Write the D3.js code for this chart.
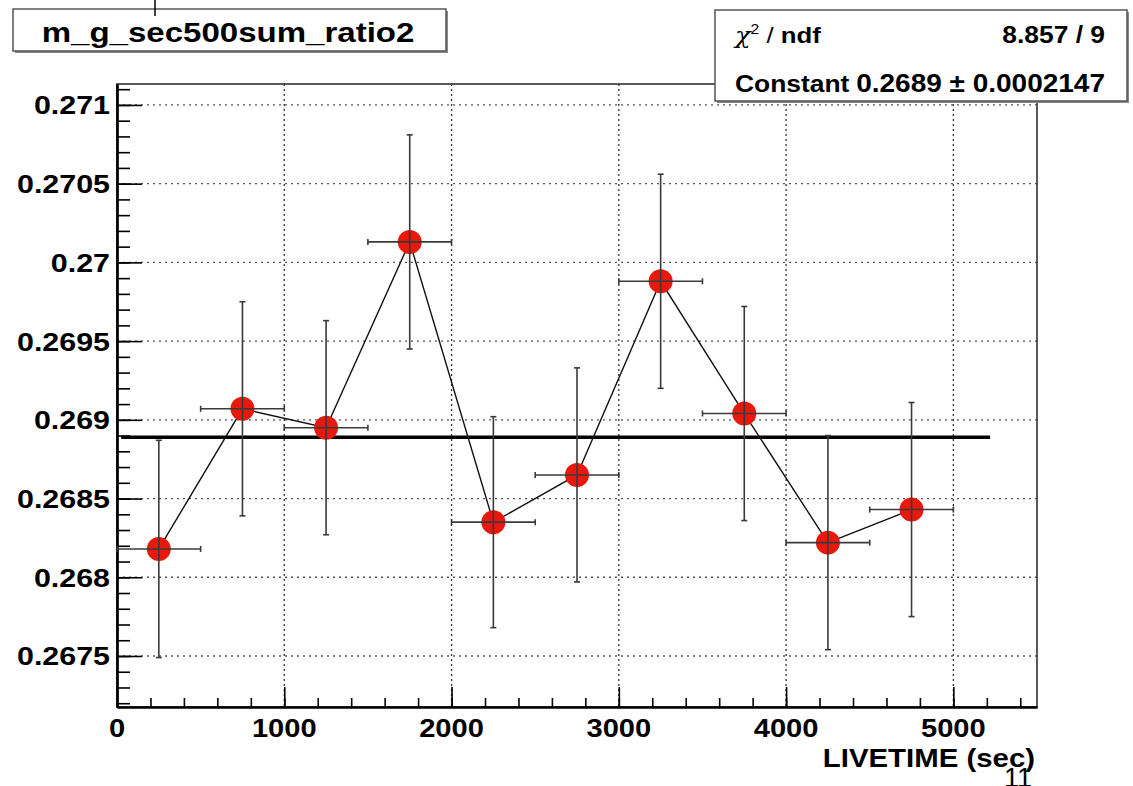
<!DOCTYPE html>
<html lang="en">
<head>
    <meta charset="UTF-8">
    <title>m_g_sec500sum_ratio2</title>
    <script src="https://d3js.org/d3.v7.min.js"></script>
    <style>
        body { margin: 0; background: #fff; }
        text { font-family: "Liberation Sans", Arial, sans-serif; }
    </style>
</head>
<body>
<script type="text/javascript">
    // data
    var binCenters = [250, 750, 1250, 1750, 2250, 2750, 3250, 3750, 4250, 4750];
    var binHalfWidths = [250, 250, 250, 250, 250, 250, 250, 250, 250, 250];
    var ratioValues = [0.26818, 0.26907, 0.26895, 0.27013, 0.26835, 0.26865, 0.26988, 0.26904, 0.26822, 0.26843];
    var ratioErrors = [0.00069, 0.00068, 0.00068, 0.00068, 0.00067, 0.00068, 0.00068, 0.00068, 0.00068, 0.00068];
    var fitConstant = 0.26889;
    var fitRange = [25, 5220];

    var xTickValues = [0, 1000, 2000, 3000, 4000, 5000];
    var xTickLabels = ["0", "1000", "2000", "3000", "4000", "5000"];
    var yTickValues = [0.2675, 0.268, 0.2685, 0.269, 0.2695, 0.27, 0.2705, 0.271];
    var yTickLabels = ["0.2675", "0.268", "0.2685", "0.269", "0.2695", "0.27", "0.2705", "0.271"];

    var titleText = "m_g_sec500sum_ratio2";
    var xAxisTitle = "LIVETIME (sec)";
    var statsChi2 = "8.857 / 9";
    var statsConstant = "0.2689 \u00b1 0.0002147";
    var pageNumber = "11";

    var svgWidth = 1133;
    var svgHeight = 786;
    var plotLeft = 117, plotRight = 1037, plotTop = 84, plotBottom = 707;

    var xScale = d3.scaleLinear().domain([0, 5500]).range([plotLeft, plotRight]);
    var yScale = d3.scaleLinear().domain([0.267176, 0.271133]).range([plotBottom, plotTop]);

    var points = binCenters.map(function (c, i) {
        return {x: c, dx: binHalfWidths[i], y: ratioValues[i], dy: ratioErrors[i]};
    });

    var svg = d3.select("body").append("svg")
        .attr("width", svgWidth)
        .attr("height", svgHeight);

    svg.append("rect")
        .attr("width", svgWidth)
        .attr("height", svgHeight)
        .attr("fill", "#fff");

    // text drawn a little wider, like the original
    var wideText = function (parent, x, y, str, size, stretch, weight, anchor) {
        return parent.append("text")
            .attr("transform", "translate(" + x + "," + y + ") scale(" + stretch + ",1)")
            .attr("text-anchor", anchor || "start")
            .attr("font-size", size + "px")
            .attr("font-weight", weight || "bold")
            .attr("fill", "#000")
            .text(str);
    };

    // grid
    svg.append("g")
        .selectAll("line")
        .data(xTickValues.filter(function (d) { return d > 0; }))
        .enter()
        .append("line")
        .attr("x1", function (d) { return xScale(d); })
        .attr("x2", function (d) { return xScale(d); })
        .attr("y1", plotTop)
        .attr("y2", plotBottom)
        .attr("stroke", "#333")
        .attr("stroke-width", 1.3)
        .attr("stroke-dasharray", "2,3");
    svg.append("g")
        .selectAll("line")
        .data(yTickValues)
        .enter()
        .append("line")
        .attr("x1", plotLeft)
        .attr("x2", plotRight)
        .attr("y1", function (d) { return yScale(d); })
        .attr("y2", function (d) { return yScale(d); })
        .attr("stroke", "#555")
        .attr("stroke-width", 1.3)
        .attr("stroke-dasharray", "2,4");

    // frame
    svg.append("rect")
        .attr("x", plotLeft)
        .attr("y", plotTop)
        .attr("width", plotRight - plotLeft)
        .attr("height", plotBottom - plotTop)
        .attr("fill", "none")
        .attr("stroke", "#333")
        .attr("stroke-width", 1.6);

    // axes, ticks point inwards
    var yMajor = d3.axisLeft(yScale).tickValues(yTickValues).tickSize(-25).tickSizeOuter(0).tickFormat("");
    var yMinor = d3.axisLeft(yScale).ticks(40).tickSize(-13).tickSizeOuter(0).tickFormat("");
    var xMajor = d3.axisBottom(xScale).tickValues(xTickValues).tickSize(-20).tickSizeOuter(0).tickFormat("");
    var xMinor = d3.axisBottom(xScale).ticks(27).tickSize(-9).tickSizeOuter(0).tickFormat("");

    svg.append("g").attr("class", "y axis").attr("transform", "translate(" + plotLeft + ",0)").call(yMinor);
    svg.append("g").attr("class", "y axis").attr("transform", "translate(" + plotLeft + ",0)").call(yMajor);
    svg.append("g").attr("class", "x axis").attr("transform", "translate(0," + plotBottom + ")").call(xMinor);
    svg.append("g").attr("class", "x axis").attr("transform", "translate(0," + plotBottom + ")").call(xMajor);
    svg.selectAll(".axis path").attr("stroke", "#000").attr("stroke-width", 2.2);
    svg.selectAll(".axis line").attr("stroke", "#000").attr("stroke-width", 1.6);

    // tick labels
    var yLabels = svg.append("g");
    yTickValues.forEach(function (v, i) {
        wideText(yLabels, plotLeft - 7, yScale(v) + 9.5, yTickLabels[i], 26, 1.17, "bold", "end");
    });
    var xLabels = svg.append("g");
    xTickValues.forEach(function (v, i) {
        wideText(xLabels, xScale(v), 737, xTickLabels[i], 26, 1.12, "bold", "middle");
    });
    wideText(svg, 1035, 767, xAxisTitle, 26, 1.13, "bold", "end");

    // fit
    var line = d3.line()
        .x(function (d) { return xScale(d[0]); })
        .y(function (d) { return yScale(d[1]); });
    svg.append("path")
        .attr("d", line(fitRange.map(function (x) { return [x, fitConstant]; })))
        .attr("stroke", "#000")
        .attr("stroke-width", 3.5)
        .attr("fill", "none");

    // polyline through the points
    svg.append("path")
        .attr("d", line(points.map(function (p) { return [p.x, p.y]; })))
        .attr("stroke", "#111")
        .attr("stroke-width", 1.4)
        .attr("fill", "none");

    // markers
    svg.append("g")
        .selectAll("circle")
        .data(points)
        .enter()
        .append("circle")
        .attr("cx", function (d) { return xScale(d.x); })
        .attr("cy", function (d) { return yScale(d.y); })
        .attr("r", 12)
        .attr("fill", "#e8180c");

    // error bars with end caps
    var bars = svg.append("g")
        .attr("stroke", "#3a3a3a")
        .attr("stroke-width", 1.6);
    bars.selectAll(".ey")
        .data(points)
        .enter()
        .append("line")
        .attr("x1", function (d) { return xScale(d.x); })
        .attr("x2", function (d) { return xScale(d.x); })
        .attr("y1", function (d) { return yScale(d.y - d.dy); })
        .attr("y2", function (d) { return yScale(d.y + d.dy); });
    bars.selectAll(".ex")
        .data(points)
        .enter()
        .append("line")
        .attr("x1", function (d) { return xScale(d.x - d.dx); })
        .attr("x2", function (d) { return xScale(d.x + d.dx); })
        .attr("y1", function (d) { return yScale(d.y); })
        .attr("y2", function (d) { return yScale(d.y); });
    [-1, 1].forEach(function (s) {
        bars.selectAll(".cy" + s)
            .data(points)
            .enter()
            .append("line")
            .attr("x1", function (d) { return xScale(d.x) - 3; })
            .attr("x2", function (d) { return xScale(d.x) + 3; })
            .attr("y1", function (d) { return yScale(d.y + s * d.dy); })
            .attr("y2", function (d) { return yScale(d.y + s * d.dy); });
        bars.selectAll(".cx" + s)
            .data(points)
            .enter()
            .append("line")
            .attr("x1", function (d) { return xScale(d.x + s * d.dx); })
            .attr("x2", function (d) { return xScale(d.x + s * d.dx); })
            .attr("y1", function (d) { return yScale(d.y) - 3; })
            .attr("y2", function (d) { return yScale(d.y) + 3; });
    });

    // boxes with a small shadow
    var pave = function (x, y, w, h) {
        svg.append("rect")
            .attr("x", x + 2).attr("y", y + 2)
            .attr("width", w).attr("height", h)
            .attr("fill", "#888");
        svg.append("rect")
            .attr("x", x).attr("y", y)
            .attr("width", w).attr("height", h)
            .attr("fill", "#fff")
            .attr("stroke", "#555")
            .attr("stroke-width", 1.5);
    };
    pave(13, 9, 433, 42);
    wideText(svg, 228, 42, titleText, 28, 1.18, "bold", "middle");

    // stats box
    pave(715, 10, 412, 91);
    var chi = svg.append("text")
        .attr("transform", "translate(735,43) scale(1.12,1)")
        .attr("font-size", "23px")
        .attr("fill", "#000");
    chi.append("tspan")
        .attr("font-family", "'DejaVu Serif', serif")
        .attr("font-style", "italic")
        .text("\u03c7");
    chi.append("tspan")
        .attr("font-size", "14px")
        .attr("dy", -9)
        .text("2");
    chi.append("tspan")
        .attr("dy", 9)
        .text(" / ");
    chi.append("tspan")
        .attr("font-weight", "bold")
        .text("ndf");
    wideText(svg, 1105, 43, statsChi2, 24, 1.1, "bold", "end");
    wideText(svg, 735, 92, "Constant", 24, 1.1, "bold", "start");
    wideText(svg, 1105, 92, statsConstant, 25, 1.12, "bold", "end");

    // leftovers of the slide the plot was cut from
    svg.append("line")
        .attr("x1", 155).attr("x2", 155)
        .attr("y1", 0).attr("y2", 16)
        .attr("stroke", "#000")
        .attr("stroke-width", 1.5);
    svg.append("text")
        .attr("x", 1004)
        .attr("y", 787)
        .attr("font-size", "27px")
        .attr("fill", "#000")
        .text(pageNumber);
</script>
</body>
</html>
